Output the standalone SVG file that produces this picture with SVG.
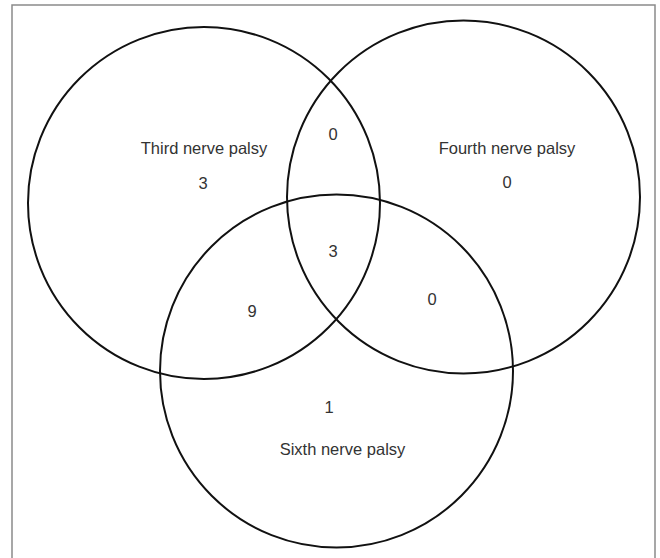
<svg xmlns="http://www.w3.org/2000/svg" width="660" height="558" viewBox="0 0 660 558">
<style>
.frame{fill:#fff;stroke:#8a8a8a;stroke-width:1.5}
.set{fill:none;stroke:#111;stroke-width:2}
.lbl{font-family:"Liberation Sans",Arial,sans-serif;font-size:16.5px;fill:#333;text-anchor:middle}
</style>
<rect class="frame" x="12" y="5" width="643" height="560"/>
<g id="set-third"><circle class="set" cx="204" cy="203" r="176"/><text class="lbl" x="204" y="154">Third nerve palsy</text><text class="lbl" x="203" y="189">3</text></g>
<g id="set-fourth"><circle class="set" cx="463.5" cy="197" r="176.5"/><text class="lbl" x="507" y="154">Fourth nerve palsy</text><text class="lbl" x="507" y="188">0</text></g>
<g id="set-sixth"><circle class="set" cx="336.5" cy="371" r="176.5"/><text class="lbl" x="329" y="413">1</text><text class="lbl" x="342.5" y="455">Sixth nerve palsy</text></g>
<g id="overlaps"><text class="lbl" x="333" y="140">0</text><text class="lbl" x="333" y="257">3</text><text class="lbl" x="252" y="317">9</text><text class="lbl" x="432" y="305">0</text></g>
<g id="connectors"/>
</svg>
